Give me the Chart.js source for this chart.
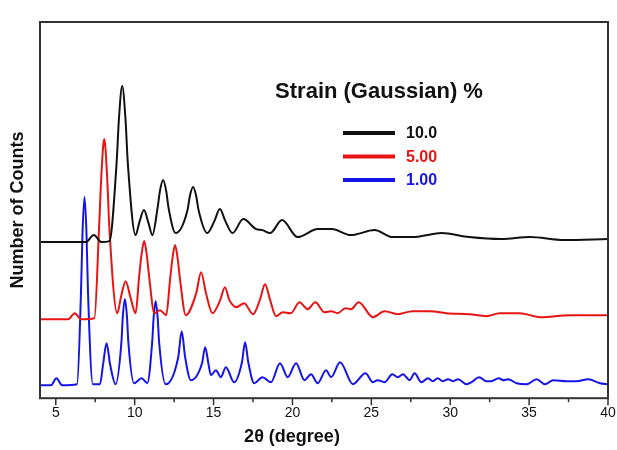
<!DOCTYPE html>
<html lang="en">
<head>
  <meta charset="UTF-8">
  <title>Strain (Gaussian) XRD</title>
  <script src="https://cdn.jsdelivr.net/npm/chart.js"></script>
  <style>
    html, body { margin: 0; padding: 0; background: #fff; }
    #wrap { width: 617px; height: 450px; }
  </style>
</head>
<body>
  <div id="wrap"><canvas id="xrd" width="617" height="450"></canvas></div>

  <script>
    // tick labels on 2theta axis (minor ticks in between)
    const xTicks = [5, 7.5, 10, 12.5, 15, 17.5, 20, 22.5, 25, 27.5, 30, 32.5, 35, 37.5, 40];

    // legend labels
    const strainLabels = ['10.0', '5.00', '1.00'];

    // 10.0 % strain (black)
    const theta10 = [4, 6.9, 7.41, 7.9, 8.4, 8.85, 9.01, 9.21, 9.41, 9.57, 10.06, 10.3, 10.59, 10.86, 11.12,
      11.45, 11.6, 11.8, 12.0, 12.15, 12.6, 13.35, 13.5, 13.7, 13.9, 14.05, 14.6, 15.05, 15.4, 15.75, 16.2,
      16.88, 17.7, 18.1, 18.58, 19.34, 20.33, 21.6, 22.5, 23.7, 25.2, 26.35, 27.6, 28.2, 29.44, 31.2, 33.25,
      35.05, 37.2, 40];
    const counts10 = [156, 156, 163, 156, 157, 234, 281, 312, 281, 234, 163, 176, 188, 176, 163,
      190, 207, 218, 207, 190, 165, 188, 202, 211, 202, 188, 165, 177, 189, 177, 165,
      179, 169, 168, 165, 178, 161, 169, 169, 163, 168, 161, 161, 162, 165, 161, 159,
      161, 158, 159];

    // 5.00 % strain (red)
    const theta5 = [4, 5.8, 6.2, 6.6, 7.45, 7.74, 7.89, 8.07, 8.25, 8.4, 8.9, 9.13, 9.43, 9.73, 10.06,
      10.28, 10.43, 10.6, 10.77, 10.92, 11.25, 11.6, 12.0, 12.24, 12.39, 12.56, 12.73, 12.88, 13.24,
      13.9, 14.21, 14.52, 14.93, 15.42, 15.72, 16.0, 16.3, 16.45, 16.94, 17.5, 17.95, 18.26, 18.57, 18.96,
      19.38, 19.9, 20.44, 20.97, 21.45, 22.03, 22.45, 22.87, 23.36, 23.72, 24.2, 25.1, 25.84, 26.68, 27.6,
      28.7, 29.76, 31.2, 32.3, 33.15, 34.4, 35.7, 37.6, 40];
    const counts5 = [79, 79, 85, 79, 80, 169, 223, 259, 223, 169, 85, 101, 117, 101, 85,
      121, 143, 157, 143, 121, 85, 88, 83, 118, 139, 153, 139, 118, 83,
      105, 126, 105, 85, 98, 111, 98, 92, 91, 95, 84, 99, 114, 99, 82,
      86, 85, 96, 89, 96, 86, 87, 85, 90, 89, 96, 81, 87, 84, 87,
      87, 85, 84, 82, 85, 85, 81, 83, 83];

    // 1.00 % strain (blue)
    const theta1 = [4, 4.7, 5.04, 5.4, 6.35, 6.6, 6.69, 6.82, 6.95, 7.04, 7.35, 7.8, 8.0, 8.22, 8.44, 8.79,
      9.16, 9.25, 9.38, 9.51, 9.6, 9.96, 10.44, 10.8, 11.11, 11.2, 11.33, 11.46, 11.55, 11.97,
      12.76, 12.98, 13.2, 13.56, 14.27, 14.47, 14.67, 14.83, 15.15, 15.46, 15.78, 16.3, 16.8, 17.0, 17.2,
      17.58, 18.1, 18.64, 19.21, 19.7, 20.23, 20.76, 21.18, 21.6, 22.13, 22.45, 23.02, 23.83, 24.63, 25.1,
      25.4, 25.84, 26.33, 26.68, 27.0, 27.43, 27.74, 28.17, 28.59, 28.9, 29.2, 29.54, 29.86, 30.18, 30.5,
      31.03, 31.35, 31.83, 32.3, 32.6, 33.08, 33.36, 33.67, 34.2, 34.84, 35.48, 36.0, 36.53, 37.38, 38.0,
      38.75, 39.5, 40];
    const counts1 = [13, 13, 20, 13, 14, 107, 163, 201, 163, 107, 14, 14, 34, 55, 34, 14,
      56, 82, 99, 82, 56, 15, 20, 15, 56, 80, 97, 80, 56, 14,
      41, 67, 41, 18, 35, 51, 35, 23, 28, 21, 31, 16, 36, 56, 36,
      15, 21, 16, 35, 21, 35, 18, 24, 15, 28, 21, 36, 14, 25, 16,
      18, 16, 24, 21, 24, 18, 25, 16, 20, 17, 20, 17, 19, 17, 19,
      14, 16, 21, 17, 17, 20, 18, 19, 15, 14, 19, 14, 18, 17, 17,
      19, 15, 14];

    const FONT = "'Liberation Sans', Arial, sans-serif";

    function toPoints(xs, ys) {
      return xs.map((x, i) => ({ x: x, y: ys[i] }));
    }

    // frame, ticks, axis titles and the legend box
    const decorPlugin = {
      id: 'decor',
      afterDatasetsDraw(chart) {
        const { ctx, chartArea: a, scales: { x } } = chart;
        ctx.save();
        ctx.strokeStyle = '#333';
        ctx.lineWidth = 2;
        ctx.strokeRect(a.left, a.top, a.right - a.left, a.bottom - a.top);

        ctx.lineWidth = 1.5;
        x.ticks.forEach(t => {
          const px = x.getPixelForValue(t.value);
          const len = t.value % 5 === 0 ? 7 : 4;
          ctx.beginPath();
          ctx.moveTo(px, a.bottom);
          ctx.lineTo(px, a.bottom + len);
          ctx.stroke();
        });

        ctx.fillStyle = '#111';
        ctx.font = 'bold 18px ' + FONT;
        ctx.textAlign = 'center';
        ctx.textBaseline = 'middle';
        ctx.fillText('2\u03B8 (degree)', 292, 437);

        ctx.save();
        ctx.translate(18, (a.top + a.bottom) / 2);
        ctx.rotate(-Math.PI / 2);
        ctx.fillText('Number of Counts', 0, 0);
        ctx.restore();

        // legend
        ctx.font = 'bold 22px ' + FONT;
        ctx.fillText('Strain (Gaussian) %', 379, 92);
        ctx.textAlign = 'left';
        ctx.font = 'bold 16px ' + FONT;
        chart.data.datasets.forEach((ds, i) => {
          const y = 133 + i * 23.5;
          ctx.strokeStyle = ds.borderColor;
          ctx.lineWidth = 4;
          ctx.beginPath();
          ctx.moveTo(343, y);
          ctx.lineTo(395, y);
          ctx.stroke();
          ctx.fillStyle = ds.borderColor;
          ctx.fillText(ds.label, 406, y + 1);
        });
        ctx.restore();
      }
    };

    const lineStyle = {
      borderWidth: 2,
      pointRadius: 0,
      fill: false,
      cubicInterpolationMode: 'monotone'
    };

    new Chart(document.getElementById('xrd'), {
      type: 'line',
      data: {
        datasets: [
          Object.assign({ label: strainLabels[0], data: toPoints(theta10, counts10), borderColor: '#111111' }, lineStyle),
          Object.assign({ label: strainLabels[1], data: toPoints(theta5, counts5), borderColor: '#e81414' }, lineStyle),
          Object.assign({ label: strainLabels[2], data: toPoints(theta1, counts1), borderColor: '#1414e8' }, lineStyle)
        ]
      },
      options: {
        responsive: false,
        animation: false,
        layout: { padding: { left: 40, right: 9, top: 22, bottom: 21 } },
        plugins: {
          legend: { display: false },
          tooltip: { enabled: false }
        },
        scales: {
          x: {
            type: 'linear',
            min: 4,
            max: 40,
            afterBuildTicks: s => { s.ticks = xTicks.map(v => ({ value: v })); },
            afterFit: s => { s.paddingLeft = 0; s.paddingRight = 0; },
            ticks: {
              autoSkip: false,
              maxRotation: 0,
              padding: 7,
              color: '#111',
              font: { family: FONT, size: 14 },
              callback: v => (v % 5 === 0 ? v : '')
            },
            grid: { display: false, drawTicks: false },
            border: { display: false }
          },
          y: {
            display: false,
            min: 0,
            max: 376
          }
        }
      },
      plugins: [decorPlugin]
    });
  </script>
</body>
</html>
